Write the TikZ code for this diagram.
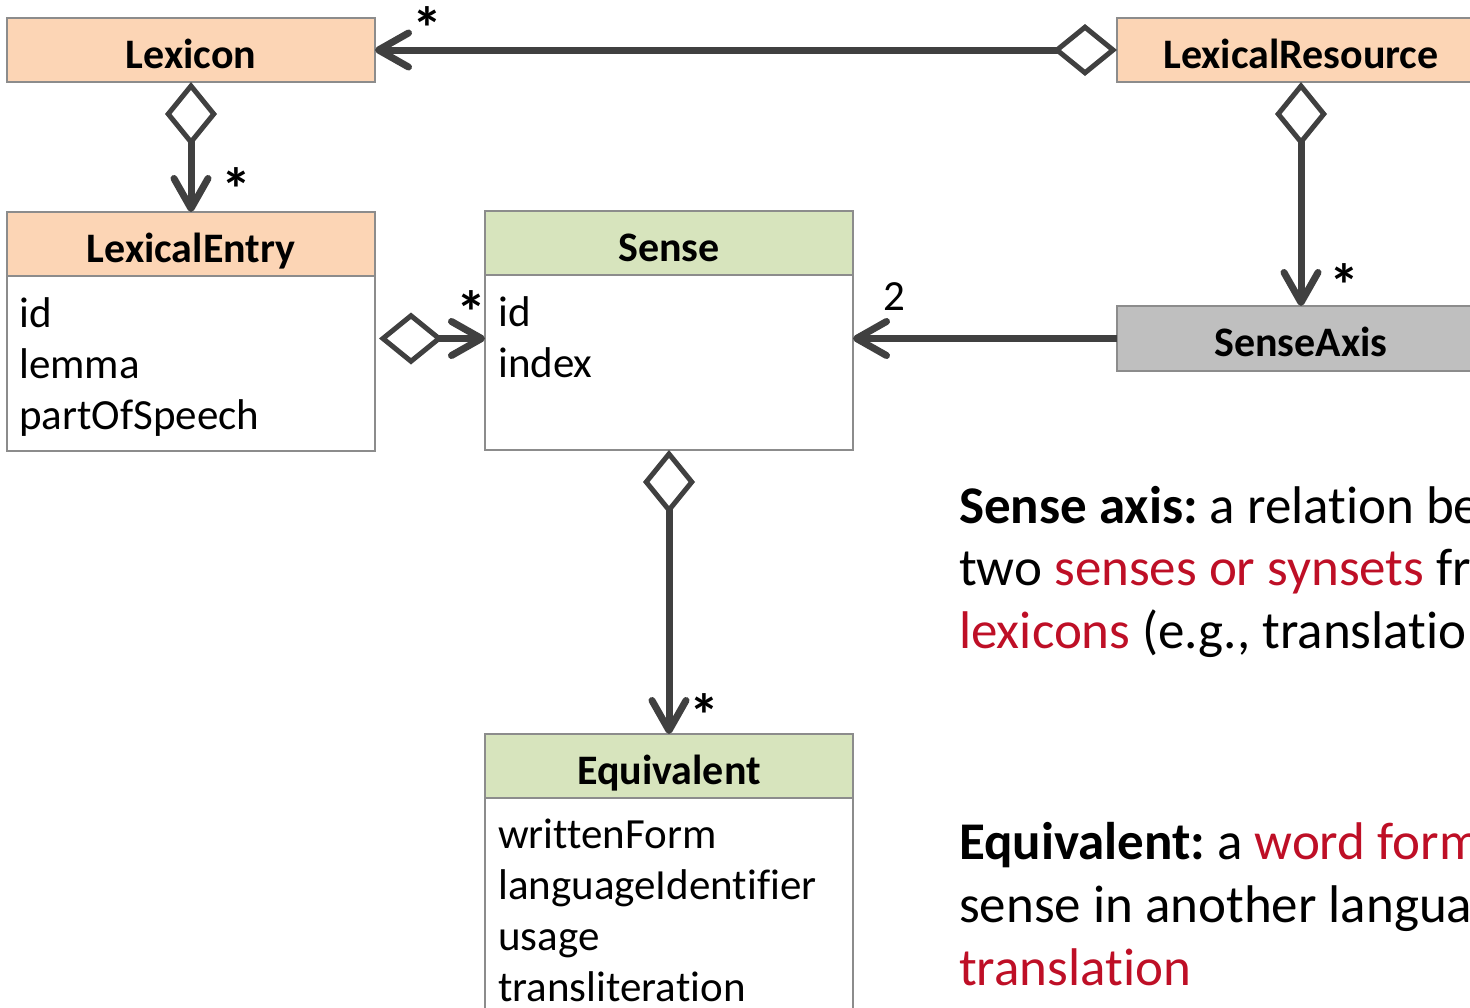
\documentclass[tikz,border=0pt]{standalone}
\usepackage{fontspec}
\setmainfont{Carlito}[Ligatures=NoCommon]
\usetikzlibrary{arrows.meta,calc}
\definecolor{peach}{HTML}{FCD5B5}
\definecolor{leaf}{HTML}{D7E4BD}
\definecolor{axisgray}{HTML}{BFBFBF}
\definecolor{boxline}{HTML}{8C8C8C}
\definecolor{conn}{HTML}{404040}
\definecolor{hilite}{HTML}{BE0F26}
\frenchspacing
\begin{document}
\begin{tikzpicture}[x=1pt,y=-1pt,
  box/.style={draw=boxline,line width=2pt,minimum width=368pt,inner sep=0pt,outer sep=0pt},
  head/.style={box,minimum height=64pt,font=\fontsize{42}{50}\selectfont\bfseries,
    text height=36pt,text depth=0pt},
  body/.style={box,fill=white},
  attr/.style={anchor=base west,inner sep=0pt,font=\fontsize{43}{51}\selectfont},
  mult/.style={anchor=base,inner sep=0pt,font=\fontsize{60}{70}\selectfont\bfseries},
  card/.style={anchor=base,inner sep=0pt,font=\fontsize{43}{51}\selectfont},
  note/.style={anchor=base west,inner sep=0pt,font=\fontsize{53}{63}\selectfont},
  conn/.style={draw=conn,line width=7pt},
  agg/.style={conn,arrows={Diamond[length=64pt,width=52pt,line width=5pt,fill=white]-Straight Barb[length=30pt,width=34pt,round]}},
  nav/.style={conn,arrows=-{Straight Barb[length=30pt,width=34pt,round]}}]
\useasboundingbox (0,0) rectangle (1470,1007);
\clip (0,0) rectangle (1470,1007);

% classes
\node[head,fill=peach] (lexicon) at (191,50) {Lexicon};
\node[head,fill=peach] (lexres) at (1301,50) {LexicalResource};

\node[head,fill=peach] (lehead) at (191,244) {LexicalEntry};
\node[body,minimum height=175pt,anchor=north] (lebody) at (lehead.south) {};
\node[attr] (le1) at (19,327) {id};
\node[attr] (le2) at (19,378) {lemma};
\node[attr] (le3) at (19,429) {partOfSpeech};

\node[head,fill=leaf] (shead) at (669,243) {Sense};
\node[body,minimum height=175pt,anchor=north] (sbody) at (shead.south) {};
\node[attr] (s1) at (498,326) {id};
\node[attr] (s2) at (498,377) {index};

\node[head,fill=axisgray,minimum height=65pt] (saxis) at (1301,338.5) {SenseAxis};

\node[head,fill=leaf] (eqhead) at (669,766) {Equivalent};
\node[body,minimum height=250pt,anchor=north] (eqbody) at (eqhead.south) {};
\node[attr] (e1) at (498,848) {writtenForm};
\node[attr] (e2) at (498,899) {languageIdentifier};
\node[attr] (e3) at (498,950) {usage};
\node[attr] (e4) at (498,1001) {transliteration};

% associations
\draw[agg] (lexres.west) -- (lexicon.east);
\draw[agg] (lexicon.south) -- (lehead.north);
\draw[agg] (lexres.south) -- (saxis.north);
\draw[agg,shorten <=4pt] (lebody.east |- saxis.west) -- (sbody.west |- saxis.west);
\draw[agg] (sbody.south) -- (eqhead.north);
\draw[nav] (saxis.west) -- (sbody.east |- saxis.west);

% multiplicities
\node[mult] (m1) at (427,49) {*};
\node[mult] (m2) at (236,210) {*};
\node[mult] (m3) at (471,333) {*};
\node[mult] (m4) at (1344,306) {*};
\node[mult] (m5) at (704,736) {*};
\node[card] (m6) at (894,310) {2};

% notes
\node[note] (n1) at (959,523) {\textbf{Sense axis:} a relation be};
\node[note] (n2) at (959,585) {two \textcolor{hilite}{senses or synsets} fr};
\node[note] (n3) at (959,648) {\textcolor{hilite}{lexicons} (e.g., translatio};
\node[note] (n4) at (959,859) {\textbf{Equivalent:} a \textcolor{hilite}{word form}};
\node[note] (n5) at (959,922) {sense in another langua};
\node[note] (n6) at (959,985) {\textcolor{hilite}{translation}};
\end{tikzpicture}
\end{document}
